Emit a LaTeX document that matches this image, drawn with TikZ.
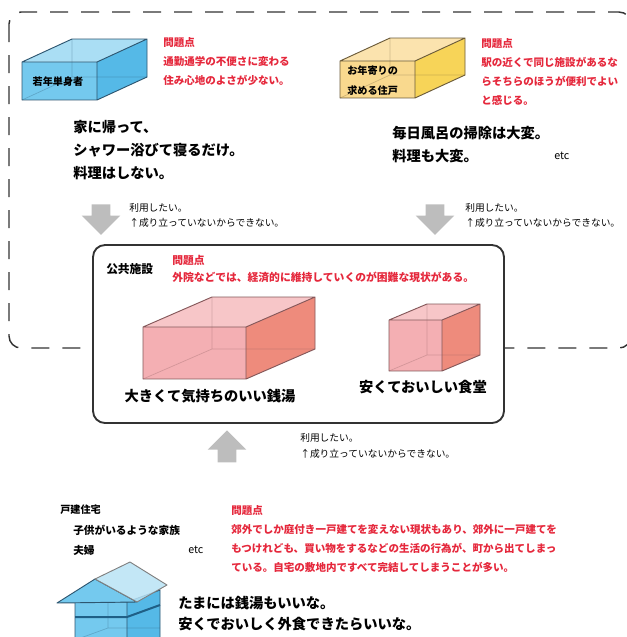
\documentclass[tikz,border=0pt]{standalone}
\usepackage{fontspec}
\setmainfont{Noto Sans CJK JP}
\usetikzlibrary{shapes.arrows}
\definecolor{probred}{HTML}{E5283C}
\definecolor{useto}{HTML}{BDBDBD}
\definecolor{blueF}{HTML}{74C9EE}\definecolor{blueR}{HTML}{55B9E7}\definecolor{blueT}{HTML}{AADEF4}\definecolor{blueE}{HTML}{2E5670}
\definecolor{yelF}{HTML}{F9D98E}\definecolor{yelR}{HTML}{F7D458}\definecolor{yelT}{HTML}{FBE3AE}\definecolor{yelE}{HTML}{6B5B3A}
\definecolor{pinkF}{HTML}{F4AFB3}\definecolor{pinkR}{HTML}{EE8B7C}\definecolor{pinkT}{HTML}{F7C6C8}\definecolor{pinkE}{HTML}{85585A}
\definecolor{roof}{HTML}{B9E3F5}\definecolor{band}{HTML}{1F5F86}
\tikzset{big/.style={font=\bfseries\fontsize{10.7}{17.25}\selectfont,align=left,inner sep=0pt},prob/.style={text=probred,font=\bfseries\fontsize{7.9}{14.25}\selectfont,align=left,inner sep=0pt},small/.style={font=\fontsize{7.3}{11.6}\selectfont,align=left,inner sep=0pt},lab/.style={font=\bfseries\fontsize{7.6}{15}\selectfont,align=left,inner sep=0pt},area/.style={draw=black!80,line width=1.1pt,dash pattern=on 13.5pt off 9.75pt,rounded corners=9pt},facility/.style={draw=black!80,fill=white,line width=1.4pt,rounded corners=9pt},usearrow/.style={single arrow,fill=useto,draw=none,minimum height=23pt,minimum width=28.5pt,single arrow head extend=7.5pt,inner sep=6.75pt}}
% front top-left x, y, width, height, depth dx, dy, colour set
\newcommand{\cuboid}[7]{%
\fill[#7F] (#1,#2) rectangle ({#1+#3},{#2+#4});
\fill[#7T] (#1,#2) -- ({#1+#5},{#2+#6}) -- ({#1+#3+#5},{#2+#6}) -- ({#1+#3},#2) -- cycle;
\fill[#7R] ({#1+#3},#2) -- ({#1+#3+#5},{#2+#6}) -- ({#1+#3+#5},{#2+#4+#6}) -- ({#1+#3},{#2+#4}) -- cycle;
\draw[#7E,opacity=.3,line width=.5pt] ({#1+#5},{#2+#6}) -- ({#1+#5},{#2+#4+#6}) -- (#1,{#2+#4}) ({#1+#5},{#2+#4+#6}) -- ({#1+#3+#5},{#2+#4+#6});
\draw[#7E,line width=.7pt,line join=round] (#1,#2) rectangle ({#1+#3},{#2+#4}) (#1,#2) -- ({#1+#5},{#2+#6}) -- ({#1+#3+#5},{#2+#6}) -- ({#1+#3},#2) ({#1+#3+#5},{#2+#6}) -- ({#1+#3+#5},{#2+#4+#6}) -- ({#1+#3},{#2+#4});}

\begin{document}
\begin{tikzpicture}[x=0.75pt,y=-0.75pt]
\useasboundingbox (0,0) rectangle (627,637);
\begin{scope}
\clip (0,0) rectangle (627,637);
\draw[area] (9,12) rectangle (631,348);
\end{scope}

\cuboid{22}{62}{75}{38}{50}{-23}{blue}
\node[lab] (single) at (58,82) {若年単身者};
\node[prob,anchor=west] (probsingle) at (163,62) {問題点\\通勤通学の不便さに変わる\\住み心地のよさが少ない。};
\node[big,anchor=west] (voicesingle) at (73,150) {家に帰って、\\シャワー浴びて寝るだけ。\\料理はしない。};

\cuboid{340}{61}{75}{37}{50}{-23}{yel}
\node[lab,anchor=west] (elder) at (347,81) {お年寄りの\\求める住戸};
\node[prob,anchor=west] (probelder) at (481,71.5) {問題点\\駅の近くで同じ施設があるな\\らそちらのほうが便利でよい\\と感じる。};
\node[big,anchor=west] (voiceelder) at (392,144.5) {毎日風呂の掃除は大変。\\料理も大変。};
\node[small,anchor=west,font=\fontsize{8}{10}\selectfont] (etcelder) at (554,156) {etc};

\node[usearrow,shape border rotate=270] (usesingle) at (101,215) {};
\node[small,anchor=west] (notesingle) at (129,215.5) {利用したい。\\↑成り立っていないからできない。};
\node[usearrow,shape border rotate=270] (useelder) at (435,215) {};
\node[small,anchor=west] (noteelder) at (465,215.5) {利用したい。\\↑成り立っていないからできない。};

\draw[facility] (93,245) rectangle (504,423);
\node[lab,anchor=west,font=\bfseries\fontsize{8.8}{10}\selectfont] (public) at (106,269) {公共施設};
\node[prob,anchor=west,font=\bfseries\fontsize{8.1}{12.75}\selectfont] (probpublic) at (172,268.5) {問題点\\外院などでは、経済的に維持していくのが困難な現状がある。};
\cuboid{143}{327}{103}{52}{69}{-30}{pink}
\cuboid{389}{320}{53}{51}{38}{-16}{pink}
\node[big] (bath) at (210,396) {大きくて気持ちのいい銭湯};
\node[big] (diner) at (423,387) {安くておいしい食堂};

\node[usearrow,shape border rotate=90,minimum height=24pt] (usehouse) at (227,451) {};
\node[small,anchor=west] (notehouse) at (300,446) {利用したい。\\↑成り立っていないからできない。};

\node[lab,anchor=west] (house) at (60,510) {戸建住宅};
\node[lab,anchor=west,font=\bfseries\fontsize{8}{15}\selectfont] (family) at (73,540) {子供がいるような家族\\夫婦};
\node[small,anchor=west,font=\fontsize{8}{10}\selectfont] (etchouse) at (188,550) {etc};
\node[prob,anchor=west] (probhouse) at (231,539) {問題点\\郊外でしか庭付き一戸建てを変えない現状もあり、郊外に一戸建てを\\もつけれども、買い物をするなどの生活の行為が、町から出てしまっ\\ている。自宅の敷地内ですべて完結してしまうことが多い。};

\fill[blueR] (127,602) -- (160,590) -- (160,640) -- (127,640) -- cycle;
\fill[blueF] (75,602) rectangle (127,640);
\draw[blueE,opacity=.3,line width=.5pt] (108,590) -- (108,628) -- (75,640) (108,628) -- (160,628);
\draw[blueE,line width=.7pt] (75,640) -- (75,602) -- (127,602) -- (127,640) (127,602) -- (160,590) -- (160,640);
\draw[band,line width=1.5pt] (75,617) -- (127,617) -- (160,605);
\filldraw[fill=blueF,draw=blueE,line width=.7pt,line join=round] (57,603) -- (95,579) -- (137,602) -- cycle;
\filldraw[fill=roof,fill opacity=.85,draw=gray,line width=.7pt,line join=round] (95,579) -- (130,562) -- (167,585) -- (137,602) -- cycle;
\node[big,anchor=west,font=\bfseries\fontsize{10.7}{15.75}\selectfont] (voicehouse) at (178,613.5) {たまには銭湯もいいな。\\安くでおいしく外食できたらいいな。};
\end{tikzpicture}
\end{document}
